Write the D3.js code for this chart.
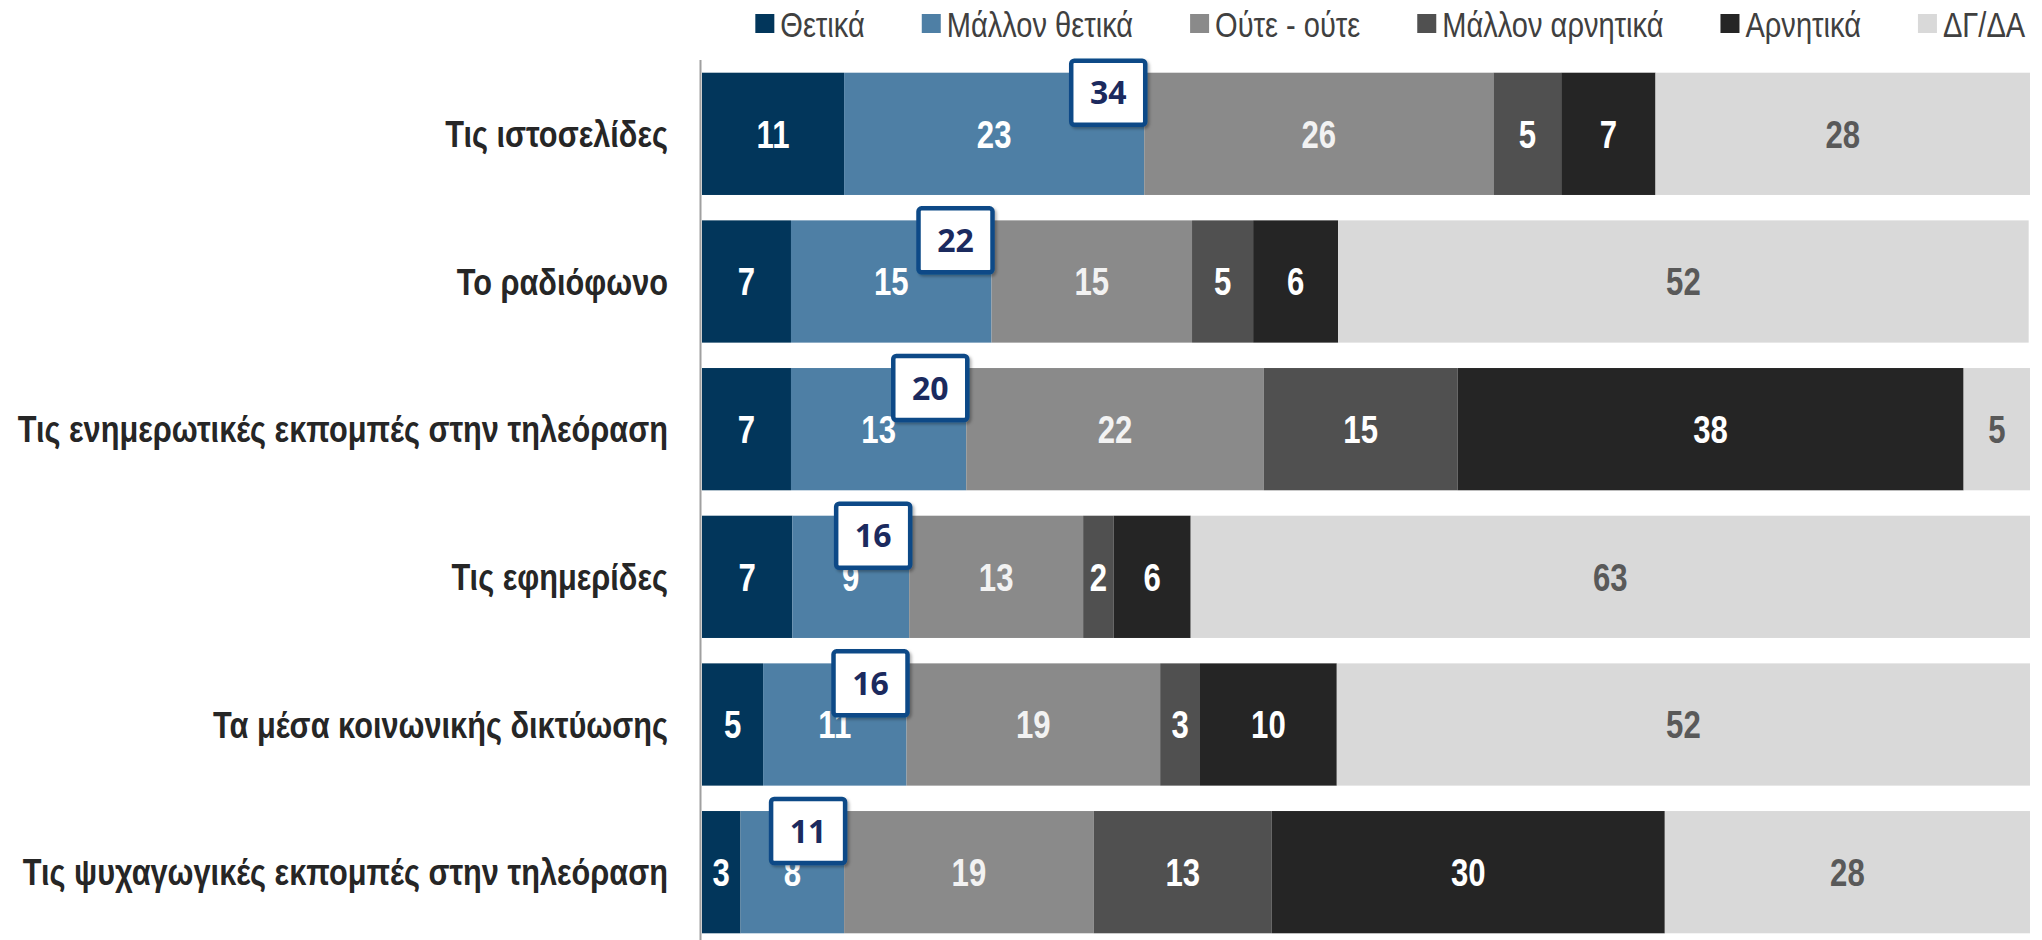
<!DOCTYPE html>
<html>
<head>
<meta charset="utf-8">
<script src="https://cdn.jsdelivr.net/npm/d3@7"></script>
<style>
  html, body { margin: 0; padding: 0; background: #fff; }
  svg { display: block; }
</style>
</head>
<body>
<svg id="chart" width="2042" height="940"></svg>
<script>
// data (percent)
const categories = [
  "Τις ιστοσελίδες",
  "Το ραδιόφωνο",
  "Τις ενημερωτικές εκπομπές στην τηλεόραση",
  "Τις εφημερίδες",
  "Τα μέσα κοινωνικής δικτύωσης",
  "Τις ψυχαγωγικές εκπομπές στην τηλεόραση"
];
const seriesNames = ["Θετικά", "Μάλλον θετικά", "Ούτε - ούτε", "Μάλλον αρνητικά", "Αρνητικά", "ΔΓ/ΔΑ"];
const seriesColors = ["#02365b", "#4e7fa5", "#8a8a8a", "#505050", "#252525", "#d9d9d9"];

const thetika        = [10.7,  6.7,  6.7,  6.8,  4.6,  2.9];
const mallonThetika  = [22.6, 15.1, 13.2,  8.8, 10.8,  7.8];
const outeOute       = [26.3, 15.1, 22.4, 13.1, 19.1, 18.8];
const mallonArnitika = [ 5.1,  4.6, 14.6,  2.3,  3.0, 13.4];
const arnitika       = [ 7.1,  6.4, 38.1,  5.8, 10.3, 29.6];
const dgda           = [28.2, 52.0,  5.0, 63.2, 52.2, 27.5];

const seriesValues = [thetika, mallonThetika, outeOute, mallonArnitika, arnitika, dgda];

const rows = categories.map((c, i) => {
  const r = { category: c };
  seriesNames.forEach((s, j) => r[s] = seriesValues[j][i]);
  return r;
});

const svg = d3.select("#chart");
// no narrow font installed, so squeeze Liberation Sans sideways
const sans = "'Liberation Sans', Arial, sans-serif";
const squeeze = 0.82;

const x = d3.scaleLinear().domain([0, 100]).range([702, 2030]);
const y = d3.scaleBand().domain(categories).range([60, 946]).paddingInner(0.172).paddingOuter(0.086);

const stacked = d3.stack().keys(seriesNames)(rows);

// bars
const layers = svg.append("g").selectAll("g")
  .data(stacked)
  .join("g")
  .attr("fill", (d, i) => seriesColors[i]);

layers.selectAll("rect")
  .data(d => d)
  .join("rect")
  .attr("x", d => x(d[0]))
  .attr("y", d => y(d.data.category))
  .attr("width", d => x(d[1]) - x(d[0]))
  .attr("height", y.bandwidth());

// value labels
layers.selectAll("text")
  .data((d, i) => d.map(p => ({ p, i })))
  .join("text")
  .attr("transform", d => `translate(${(x(d.p[0]) + x(d.p[1])) / 2},${y(d.p.data.category) + y.bandwidth() / 2}) scale(${squeeze},1)`)
  .attr("dy", "0.36em")
  .attr("text-anchor", "middle")
  .attr("font-family", sans)
  .attr("font-weight", "bold")
  .attr("font-size", 38)
  .attr("fill", d => d.i === 5 ? "#595959" : (d.i === 2 ? "#f2f2f2" : "#ffffff"))
  .text(d => Math.round(d.p[1] - d.p[0]));

// axis line
svg.append("line")
  .attr("x1", 700.5).attr("x2", 700.5)
  .attr("y1", 60).attr("y2", 940)
  .attr("stroke", "#a0a0a0")
  .attr("stroke-width", 2);

// category labels
svg.append("g").selectAll("text")
  .data(categories)
  .join("text")
  .attr("transform", d => `translate(668,${y(d) + y.bandwidth() / 2}) scale(0.83,1)`)
  .attr("dy", "0.36em")
  .attr("text-anchor", "end")
  .attr("font-family", sans)
  .attr("font-weight", "bold")
  .attr("font-size", 37)
  .attr("fill", "#262626")
  .text(d => d);

// positive total boxes
const defs = svg.append("defs");
const shadow = defs.append("filter").attr("id", "shadow").attr("x", "-20%").attr("y", "-20%").attr("width", "150%").attr("height", "150%");
shadow.append("feDropShadow").attr("dx", 2).attr("dy", 2).attr("stdDeviation", 1.5).attr("flood-color", "#000").attr("flood-opacity", 0.3);

const posTotals = rows.map((r, i) => ({
  category: r.category,
  end: r[seriesNames[0]] + r[seriesNames[1]],
  label: Math.round(thetika[i]) + Math.round(mallonThetika[i])
}));

const boxW = 74, boxH = 64;
const boxes = svg.append("g").selectAll("g")
  .data(posTotals)
  .join("g")
  .attr("transform", d => `translate(${x(d.end) + 1 - boxW},${y(d.category) - 12})`);

boxes.append("rect")
  .attr("width", boxW).attr("height", boxH)
  .attr("rx", 3)
  .attr("fill", "#fff")
  .attr("stroke", "#0d4a87")
  .attr("stroke-width", 4.5)
  .attr("filter", "url(#shadow)");

boxes.append("text")
  .attr("x", boxW / 2).attr("y", boxH / 2)
  .attr("dy", "0.36em")
  .attr("text-anchor", "middle")
  .attr("font-family", "'Open Sans', 'DejaVu Sans', sans-serif")
  .attr("font-weight", "bold")
  .attr("font-size", 32)
  .attr("fill", "#1b2a5e")
  .text(d => d.label);

// legend
const legend = svg.append("g");
const items = legend.selectAll("g")
  .data(seriesNames)
  .join("g");
items.append("rect")
  .attr("width", 19).attr("height", 19)
  .attr("y", 14)
  .attr("fill", (d, i) => seriesColors[i]);
items.append("text")
  .attr("transform", `translate(25,24) scale(0.83,1)`)
  .attr("dy", "0.36em")
  .attr("font-family", sans)
  .attr("font-size", 35)
  .attr("fill", "#404040")
  .text(d => d);

let cursor = 0;
const offsets = [];
items.each(function () {
  offsets.push(cursor);
  cursor += this.getBBox().width + 57;
});
const totalW = cursor - 57;
const startX = (758 + 2023) / 2 - totalW / 2;
items.attr("transform", (d, i) => `translate(${startX + offsets[i]},0)`);
</script>
</body>
</html>
